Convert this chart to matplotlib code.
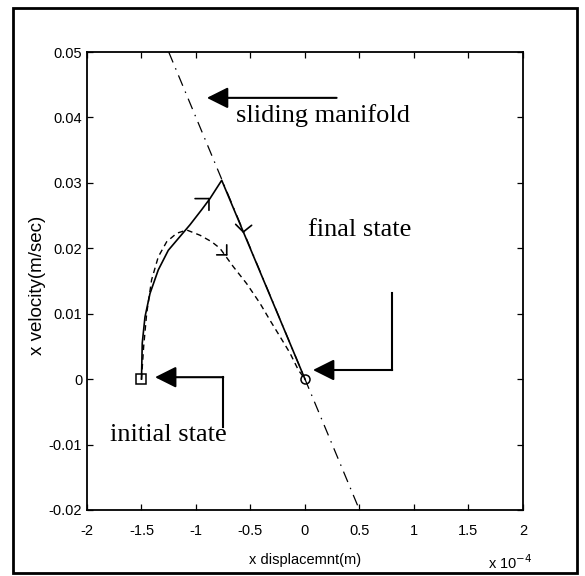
import numpy as np
import matplotlib.pyplot as plt
from matplotlib.patches import Rectangle

# x in units of 1e-4 m, y in m/sec
x_ticks = [-2, -1.5, -1, -0.5, 0, 0.5, 1, 1.5, 2]
x_tick_labels = ['-2', '-1.5', '-1', '-0.5', '0', '0.5', '1', '1.5', '2']
y_ticks = [-0.02, -0.01, 0, 0.01, 0.02, 0.03, 0.04, 0.05]
y_tick_labels = ['-0.02', '-0.01', '0', '0.01', '0.02', '0.03', '0.04', '0.05']

# sliding manifold s = 0
manifold_x = [-1.25, 0.5]
manifold_y = [0.05, -0.02]

# solid trajectory (reaching phase, then sliding along the manifold)
solid_x = [-1.5, -1.493, -1.468, -1.422, -1.346, -1.254, -1.147, -1.055, -0.948,
           -0.872, -0.764, 0.0]
solid_y = [0.0, 0.0055, 0.0095, 0.0131, 0.0167, 0.0197, 0.0218, 0.0236, 0.0259,
           0.0276, 0.0304, 0.0]

# dashed trajectory
dashed_x = [-1.5, -1.48, -1.452, -1.407, -1.346, -1.269, -1.177, -1.085, -0.963,
            -0.856, -0.780, -0.658, -0.535, -0.413, -0.321, -0.229, -0.138, -0.061, 0.0]
dashed_y = [0.0, 0.005, 0.0101, 0.0152, 0.0187, 0.0210, 0.0223, 0.0228, 0.0220,
            0.0210, 0.0200, 0.0172, 0.0146, 0.0116, 0.0090, 0.0065, 0.0040, 0.0014, 0.0]

initial_state = (-1.5, 0.0)
final_state = (0.0, 0.0)

# small direction marks: tip (data) and two barbs (offset points)
dir_marks = [
    ((-0.881, 0.0276), [(-10, 0), (0, -8.4)]),
    ((-0.566, 0.0225), [(-5.5, 5.5), (6, 4.8)]),
    ((-0.718, 0.0190), [(0, 7.2), (-7.2, 0)]),
]

fig = plt.figure(figsize=(5.85, 5.76), dpi=100)
ax = fig.add_axes([0.1487, 0.1146, 0.7453, 0.795])

sans = 'Liberation Sans'
serif = 'Liberation Serif'

ax.plot(manifold_x, manifold_y, color='black', lw=0.9, linestyle=(0, (9, 5, 1.2, 5)))
ax.plot(solid_x, solid_y, color='black', lw=1.2)
ax.plot(dashed_x, dashed_y, color='black', lw=1.0, linestyle=(0, (4, 3)))
ax.plot(*initial_state, marker='s', markersize=7, markerfacecolor='none',
        markeredgecolor='black', markeredgewidth=1.1)
ax.plot(*final_state, marker='o', markersize=6.5, markerfacecolor='none',
        markeredgecolor='black', markeredgewidth=1.1)

for tip, barbs in dir_marks:
    for b in barbs:
        ax.annotate('', xy=tip, xytext=b, textcoords='offset points',
                    arrowprops=dict(arrowstyle='-', lw=1.2, color='black',
                                    shrinkA=0, shrinkB=0))

head = dict(arrowstyle='-|>,head_length=1.3,head_width=0.65', lw=1.5,
            color='black', shrinkA=0, shrinkB=0)

# sliding manifold label
ax.annotate('', xy=(-0.90, 0.043), xytext=(0.29, 0.043), arrowprops=head)
ax.text(-0.63, 0.0403, 'sliding manifold', family=serif, fontsize=19,
        va='center', ha='left')

# final state label
ax.plot([0.80, 0.80], [0.0132, 0.0014], color='black', lw=1.5)
ax.annotate('', xy=(0.073, 0.0014), xytext=(0.80, 0.0014), arrowprops=head)
ax.text(0.03, 0.0228, 'final state', family=serif, fontsize=19,
        va='center', ha='left')

# initial state label
ax.plot([-0.75, -0.75], [0.0003, -0.0073], color='black', lw=1.5)
ax.annotate('', xy=(-1.376, 0.0003), xytext=(-0.75, 0.0003), arrowprops=head)
ax.text(-1.79, -0.0086, 'initial state', family=serif, fontsize=19,
        va='center', ha='left')

ax.set_xlim(-2, 2)
ax.set_ylim(-0.02, 0.05)
ax.set_xticks(x_ticks)
ax.set_xticklabels(x_tick_labels, family=sans, fontsize=10.5)
ax.set_yticks(y_ticks)
ax.set_yticklabels(y_tick_labels, family=sans, fontsize=10.5)
ax.tick_params(direction='in', top=True, right=True, length=4, width=0.9)
ax.tick_params(axis='x', pad=10)
for sp in ax.spines.values():
    sp.set_linewidth(1.3)

ax.set_xlabel('x displacemnt(m)', family=sans, fontsize=10.5, labelpad=11)
ax.set_ylabel('x velocity(m/sec)', family=sans, fontsize=13.5)
ax.yaxis.set_label_coords(-0.093, 0.491)
fig.text(0.834, 0.013, r'x 10$^{-4}$', family=sans, fontsize=10.5)

# outer frame
fig.patches.append(Rectangle((0.0222, 0.0052), 0.9641, 0.981, transform=fig.transFigure,
                             fill=False, edgecolor='black', lw=2.0))

fig.savefig('out.png', dpi=100)
